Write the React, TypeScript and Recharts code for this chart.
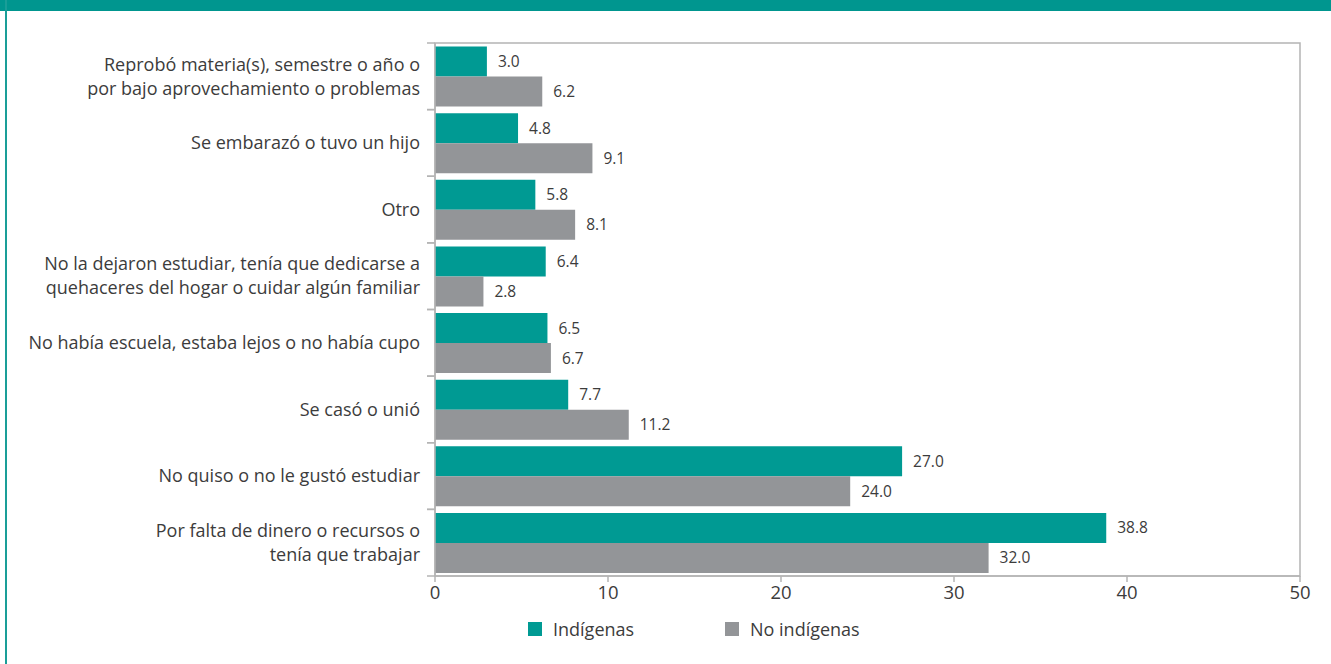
import React from 'react';
import { BarChart, Bar, XAxis, YAxis, LabelList, ReferenceArea } from 'recharts';

const categories = [
  'Reprobó materia(s), semestre o año o\npor bajo aprovechamiento o problemas',
  'Se embarazó o tuvo un hijo',
  'Otro',
  'No la dejaron estudiar, tenía que dedicarse a\nquehaceres del hogar o cuidar algún familiar',
  'No había escuela, estaba lejos o no había cupo',
  'Se casó o unió',
  'No quiso o no le gustó estudiar',
  'Por falta de dinero o recursos o\ntenía que trabajar',
];
const indigenas = [3.0, 4.8, 5.8, 6.4, 6.5, 7.7, 27.0, 38.8];
const noIndigenas = [6.2, 9.1, 8.1, 2.8, 6.7, 11.2, 24.0, 32.0];
const xTicks = [0, 10, 20, 30, 40, 50];
const legendItems = [
  { label: 'Indígenas', key: 'indigenas' },
  { label: 'No indígenas', key: 'noIndigenas' },
];

const TEAL = '#009a93';
const GRAY = '#939598';
const AXIS = '#b4b4b4';
const TEXT = '#3c3c3c';
const FONT = '"Open Sans", sans-serif';

const data = categories.map((name, i) => ({
  name,
  indigenas: indigenas[i],
  noIndigenas: noIndigenas[i],
}));

const TOP = 43;
const PLOT_BOTTOM = 576;
const XAXIS_H = 30;
const H = 664;
const BAND = (PLOT_BOTTOM - TOP) / categories.length;

function CategoryTick(props: any) {
  const { x, y, payload } = props;
  const lines = String(payload.value).split('\n');
  const lh = 24;
  const start = y - ((lines.length - 1) * lh) / 2;
  return (
    <g>
      <line x1={x + 7} x2={x + 15} y1={y - BAND / 2} y2={y - BAND / 2} stroke={AXIS} strokeWidth={1.5} />
      <line x1={x + 7} x2={x + 15} y1={y + BAND / 2} y2={y + BAND / 2} stroke={AXIS} strokeWidth={1.5} />
      <text textAnchor="end" fill={TEXT} fontSize={18} fontFamily={FONT}>
        {lines.map((l, i) => (
          <tspan key={i} x={x} y={start + i * lh} dy="0.35em">
            {l}
          </tspan>
        ))}
      </text>
    </g>
  );
}

export default function App() {
  const colors: Record<string, string> = { indigenas: TEAL, noIndigenas: GRAY };
  const lefts = [528, 725];
  return (
    <div style={{ position: 'absolute', left: 0, top: 0, width: 1331, height: H, background: '#fff' }}>
      <div style={{ position: 'absolute', left: 0, top: 0, width: 1331, height: 11, background: '#00968f' }} />
      <div style={{ position: 'absolute', left: 5, top: 0, width: 2, height: H, background: '#1a9e98' }} />
      <BarChart
        width={1331}
        height={H}
        data={data}
        layout="vertical"
        margin={{ top: TOP, right: 31, bottom: H - PLOT_BOTTOM - XAXIS_H, left: 0 }}
        barCategoryGap={3.5}
        barGap={0}
        style={{ fontFamily: FONT }}
      >
        <ReferenceArea x1={0} x2={50} fill="none" stroke={AXIS} strokeWidth={1.5} ifOverflow="visible" />
        <XAxis
          type="number"
          domain={[0, 50]}
          ticks={xTicks}
          tick={{ fill: TEXT, fontSize: 18.5, fontFamily: FONT }}
          tickLine={{ stroke: AXIS, strokeWidth: 1.5 }}
          axisLine={{ stroke: AXIS, strokeWidth: 1.5 }}
          tickSize={6}
          tickMargin={4}
          height={XAXIS_H}
        />
        <YAxis
          type="category"
          dataKey="name"
          width={435}
          tick={<CategoryTick />}
          tickLine={false}
          axisLine={{ stroke: AXIS, strokeWidth: 1.5 }}
          tickSize={8}
          tickMargin={7}
          interval={0}
        />
        <Bar dataKey="indigenas" fill={TEAL} isAnimationActive={false}>
          <LabelList dataKey="indigenas" position="right" offset={11} fill={TEXT} fontSize={15.5} fontFamily={FONT} formatter={(v: any) => Number(v).toFixed(1)} />
        </Bar>
        <Bar dataKey="noIndigenas" fill={GRAY} isAnimationActive={false}>
          <LabelList dataKey="noIndigenas" position="right" offset={11} fill={TEXT} fontSize={15.5} fontFamily={FONT} formatter={(v: any) => Number(v).toFixed(1)} />
        </Bar>
      </BarChart>
      {legendItems.map((it, i) => (
        <div
          key={it.key}
          style={{ position: 'absolute', left: lefts[i], top: 617, display: 'flex', alignItems: 'center', fontFamily: FONT, fontSize: 18, color: TEXT }}
        >
          <span style={{ width: 14, height: 14, background: colors[it.key], display: 'inline-block', marginRight: 11 }} />
          <span>{it.label}</span>
        </div>
      ))}
    </div>
  );
}
